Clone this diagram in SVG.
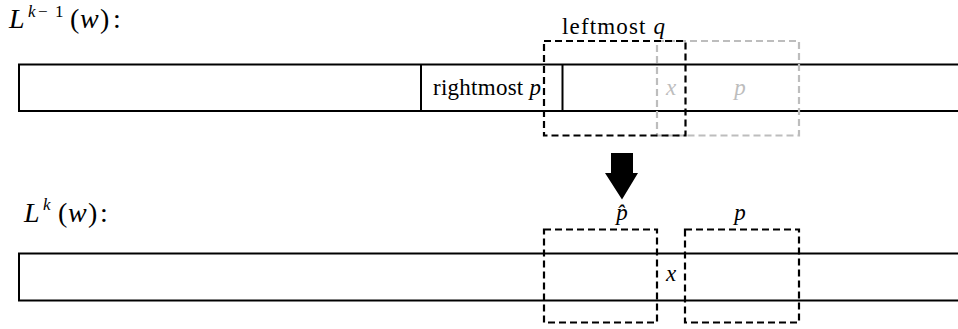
<svg xmlns="http://www.w3.org/2000/svg" width="958" height="329" viewBox="0 0 958 329">
  <style>
    .strip { fill: none; stroke: #000; stroke-width: 2; }
    .cut { stroke: #000; stroke-width: 2; }
    .win { fill: none; stroke: #000; stroke-width: 2.2; stroke-dasharray: 7 4; }
    .win-ghost { fill: none; stroke: #bdbdbd; stroke-width: 2.2; stroke-dasharray: 7 4; }
    .lbl { font-family: "Liberation Serif", serif; font-size: 23px; fill: #000; }
    .math { font-style: italic; }
    .ghost { fill: #bdbdbd; }
    .head { font-family: "Liberation Serif", serif; font-size: 28px; fill: #000; }
    .sup { font-size: 17px; }
  </style>

  <!-- upper level: L^{k-1}(w) -->
  <g id="title-upper">
    <text class="head"><tspan class="math" x="9" y="28">L</tspan><tspan class="sup math" x="28" y="17">k</tspan><tspan class="sup" x="38" y="17">−</tspan><tspan class="sup" x="55" y="17">1</tspan><tspan x="70" y="28">(</tspan><tspan class="math" x="80" y="28">w</tspan><tspan x="100" y="28">)</tspan><tspan x="113" y="28">:</tspan></text>
  </g>
  <g id="strip-upper">
    <rect class="strip" x="19" y="64.5" width="960" height="46.5"/>
    <line class="cut" x1="421" y1="64.5" x2="421" y2="111"/>
    <line class="cut" x1="562.5" y1="64.5" x2="562.5" y2="111"/>
    <text class="lbl" x="433" y="95" textLength="108" lengthAdjust="spacing">rightmost <tspan class="math">p</tspan></text>
  </g>
  <g id="window-p-ghost">
    <rect class="win-ghost" x="657" y="41" width="142" height="94.5"/>
    <text class="lbl math ghost" x="671" y="95" text-anchor="middle">x</text>
    <text class="lbl math ghost" x="740" y="95" text-anchor="middle">p</text>
  </g>
  <g id="window-q">
    <rect class="win" x="544" y="41" width="141.5" height="94.5"/>
    <text class="lbl" x="562" y="34" textLength="103" lengthAdjust="spacing">leftmost <tspan class="math">q</tspan></text>
  </g>

  <!-- transition arrow -->
  <g id="arrow">
    <polygon points="611,153 633,153 633,173 638,173 622,199.5 605,173 611,173" fill="#000"/>
  </g>

  <!-- lower level: L^k(w) -->
  <g id="title-lower">
    <text class="head"><tspan class="math" x="24" y="222">L</tspan><tspan class="sup math" x="43" y="210">k</tspan><tspan x="58" y="222">(</tspan><tspan class="math" x="68" y="222">w</tspan><tspan x="88" y="222">)</tspan><tspan x="100" y="222">:</tspan></text>
  </g>
  <g id="strip-lower">
    <rect class="strip" x="19" y="253.5" width="960" height="47"/>
  </g>
  <g id="window-phat">
    <rect class="win" x="544" y="229.5" width="113" height="93"/>
    <text class="lbl math" x="622" y="220" text-anchor="middle">p̂</text>
  </g>
  <g id="window-p">
    <rect class="win" x="685" y="229.5" width="114" height="93"/>
    <text class="lbl math" x="740" y="220" text-anchor="middle">p</text>
  </g>
  <g id="overlap-x">
    <text class="lbl math" x="671" y="281" text-anchor="middle">x</text>
  </g>
</svg>
